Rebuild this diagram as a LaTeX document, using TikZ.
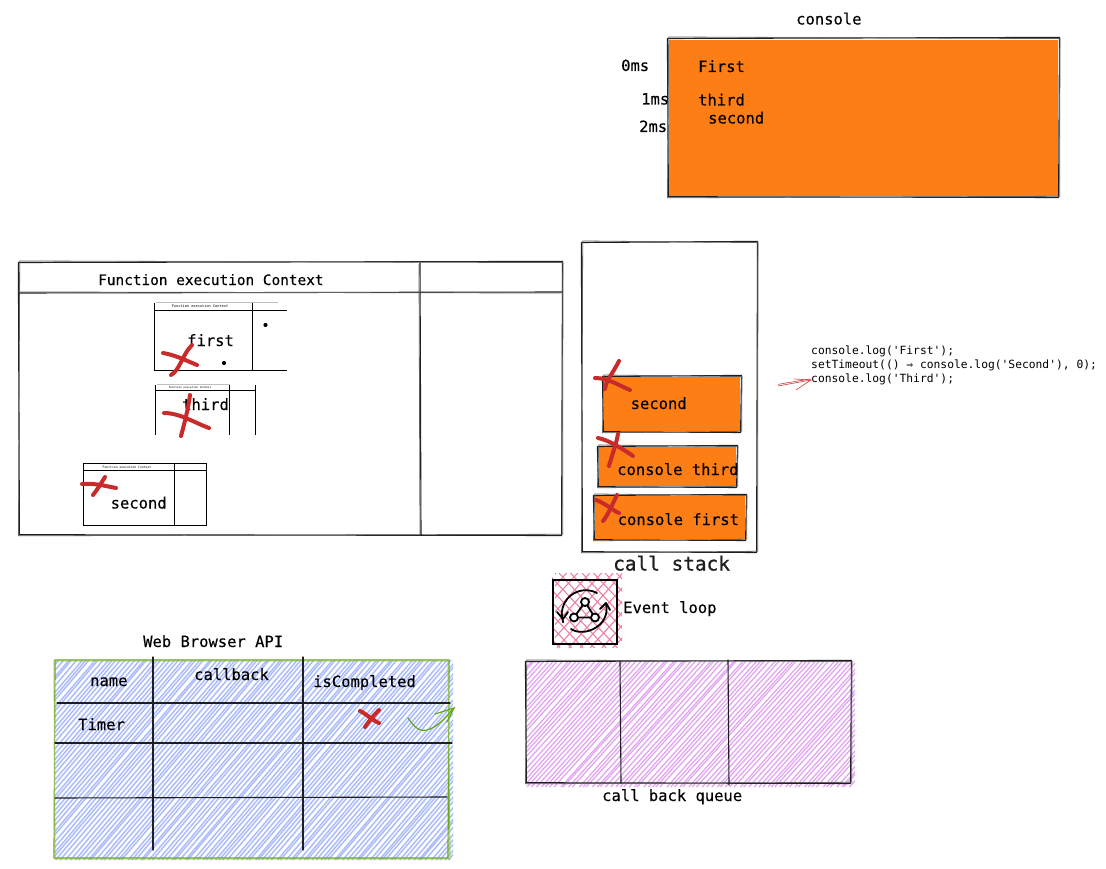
\documentclass[tikz,border=0pt]{standalone}
\usepackage{fontspec}
\setmonofont{DejaVu Sans Mono}
\definecolor{sketchorange}{HTML}{FD7E14}
\definecolor{crossred}{HTML}{C92A2A}
\definecolor{inkline}{HTML}{1E1E1E}
\definecolor{hatchblue}{HTML}{5C7CFA}
\definecolor{hatchpink}{HTML}{E64980}
\definecolor{hatchpurple}{HTML}{CC5DE8}
\definecolor{sketchgreen}{HTML}{66A80F}
\tikzset{
  ink/.style={draw=inkline,line width=1.1pt,line cap=round,line join=round},
  inkfaint/.style={draw=inkline!70,line width=0.8pt,line cap=round},
  thinink/.style={draw=black,line width=0.7pt},
  xmark/.style={draw=crossred,line width=4pt,line cap=round,line join=round},
  label/.style={font=\ttfamily\fontsize{15.5}{17}\selectfont\addfontfeature{FakeBold=0.2},text=black,inner sep=0pt,anchor=base west},
  titlelabel/.style={font=\ttfamily\fontsize{14.4}{16}\selectfont\addfontfeature{FakeBold=0.2},text=black,inner sep=0pt,anchor=base west},
  codetext/.style={font=\ttfamily\fontsize{11.3}{14}\selectfont,text=black,inner sep=0pt,anchor=base west,align=left},
  tiny/.style={font=\ttfamily\fontsize{3.6}{4}\selectfont,text=black,inner sep=0pt,anchor=center},
  stacklabel/.style={font=\ttfamily\fontsize{19.4}{22}\selectfont\addfontfeature{FakeBold=0.8},text=inkline,inner sep=0pt,anchor=base west},
}
% rough rectangle: two slightly displaced strokes
\newcommand{\roughrect}[5][]{%
  \draw[ink,#1] (#2-0.6,#3+0.5) -- (#4+0.5,#3-0.6) -- (#4-0.4,#5+0.5) -- (#2+0.4,#5-0.3) -- cycle;
  \draw[inkfaint,#1] (#2+0.7,#3-1) -- (#4+0.9,#3+0.6) -- (#4+0.7,#5-0.7) -- (#2-0.5,#5+0.8) -- cycle;
}
% hatching: x1 y1 x2 y2 colour spacing lean width
\newcommand{\hatchfill}[8]{%
  \begin{scope}
    \clip (#1,#2) rectangle (#3,#4);
    \pgfmathsetmacro{\hlean}{(#4-#2)*#7}
    \pgfmathsetmacro{\hstart}{#1-\hlean}
    \pgfmathsetmacro{\hnext}{\hstart+#6}
    \foreach \hx in {\hstart,\hnext,...,#3}{
      \pgfmathsetmacro{\hj}{1.4*rand}
      \pgfmathsetmacro{\hk}{1.4*rand}
      \draw[#5,line width=#8] (\hx+\hj,#4) -- (\hx+\hlean+\hk,#2);
    }
  \end{scope}}
\begin{document}
\begin{tikzpicture}[x=1pt,y=-1pt]
\pgfmathsetseed{4242}
\useasboundingbox[fill=white] (0,0) rectangle (1106,869);

% console
\fill[sketchorange] (669,40) rectangle (1058,196);
\roughrect{668}{38}{1059}{197}
\node[label] (consoletitle) at (796,24.5) {console};
\node[label] (t0) at (621,71) {0ms};
\node[label] (t1) at (641,104.5) {1ms};
\node[label] (t2) at (639,132) {2ms};
\node[label] (lfirst) at (698,72) {First};
\node[label] (lthird) at (698,105.5) {third};
\node[label] (lsecond) at (708,123.5) {second};

% function execution context
\roughrect{19}{262}{562}{535}
\draw[ink] (19,293) -- (562,292);
\draw[inkfaint] (18,292) -- (561,293);
\draw[ink] (420,263) -- (421,535);
\draw[inkfaint] (419,264) -- (420,534);
\node[titlelabel] (fectitle) at (98,285) {Function execution Context};

% mini frame: first
\draw[thinink] (154,303) -- (154,370) -- (287,370);
\draw[thinink] (154,310) -- (287,310);
\draw[thinink] (252,303) -- (252,370);
\draw[draw=black!25,line width=0.5pt] (156,302) -- (278,302);
\node[tiny] (minifirst) at (200,306.5) {Function execution Context};
\fill (265.5,325) circle (2.1);
\fill (224,363) circle (2.1);
\node[label] (first) at (187,346) {first};

% mini frame: third
\draw[thinink] (155.5,385) -- (155.5,435);
\draw[thinink] (155.5,390.5) -- (255.5,390.5);
\draw[thinink] (229.5,385) -- (229.5,435);
\draw[thinink] (255.5,385) -- (255.5,435);
\draw[draw=black!25,line width=0.5pt] (157,384.5) -- (230,384.5);
\node[tiny,font=\ttfamily\fontsize{2.7}{3}\selectfont] (minithird) at (190,387.7) {Function execution Context};
\node[label] (third) at (182,410) {third};

% mini frame: second
\draw[thinink] (83.5,463.5) rectangle (206.5,525.5);
\draw[thinink] (83.5,470.5) -- (206.5,470.5);
\draw[thinink] (174.5,463.5) -- (174.5,525.5);
\node[tiny,font=\ttfamily\fontsize{3.1}{3.5}\selectfont] (minisecond) at (127,467.2) {Function execution Context};
\node[label] (second) at (110.5,508.5) {second};

% crosses on the frames
\draw[xmark] (163,353) .. controls (175,355) and (185,360) .. (197,365);
\draw[xmark] (192,345) .. controls (182,355) and (180,370) .. (171,375);
\draw[xmark] (164,413) .. controls (180,413) and (195,423) .. (209,428);
\draw[xmark] (190,395) .. controls (188,410) and (184,425) .. (181,436);
\draw[xmark] (82,484) .. controls (95,483) and (105,486) .. (116,488);
\draw[xmark] (105,477) .. controls (100,485) and (97,490) .. (93,495);

% call stack
\roughrect{582}{242}{757}{552}
\node[stacklabel] (stacklabel) at (613,570.5) {call stack};

\fill[sketchorange] (604,377) rectangle (740,431);
\roughrect{603}{376}{741}{432}
\node[label] (ssecond) at (630.5,409) {second};
\fill[sketchorange] (599,447) rectangle (736,486);
\roughrect{598}{446}{737}{487}
\node[label] (sthird) at (617,475) {console third};
\fill[sketchorange] (595,496) rectangle (745,539);
\roughrect{594}{495}{746}{540}
\node[label] (sfirst) at (617.5,525) {console first};

\draw[xmark] (595,378) .. controls (608,378) and (618,385) .. (630,390);
\draw[xmark] (619,361) .. controls (612,375) and (606,380) .. (605,389);
\draw[xmark] (598,438) .. controls (608,440) and (620,447) .. (633,456);
\draw[xmark] (618,434) .. controls (616,445) and (612,455) .. (609,466);
\draw[xmark] (596,500) .. controls (605,503) and (612,510) .. (619,513);
\draw[xmark] (617,495) .. controls (612,505) and (608,515) .. (603,521);

% code and red arrow
\node[codetext] (codeone) at (811,354) {console.log('First');};
\node[codetext] (codetwo) at (811,368) {setTimeout(() ⇒ console.log('Second'), 0);};
\node[codetext] (codethree) at (811,382) {console.log('Third');};
\coordinate (arrowtail) at (778,386);
\coordinate (arrowtip) at (811,380);
\draw[draw=crossred!90,line width=0.6pt] (arrowtail) -- (arrowtip);
\draw[draw=crossred!90,line width=0.6pt] ([yshift=1.6pt]arrowtail) -- ([yshift=1.2pt]arrowtip);
\draw[draw=crossred!90,line width=0.6pt] (794,379) -- (arrowtip) -- (796,390);

% event loop
\hatchfill{555}{573}{622}{648}{hatchpink!70}{11.5}{0.9}{1.1pt}
\begin{scope}
  \clip (552,573) rectangle (622,648);
  \foreach \hx in {490,501.5,...,640}{
    \draw[hatchpink!70,line width=1.1pt] (\hx,573) -- (\hx+70,648);
  }
\end{scope}
\draw[draw=black,line width=2pt] (552.5,579.5) rectangle (617,644);
\draw[draw=black,line width=1.8pt,line cap=round] (597,593) arc[start angle=-62,end angle=-200,radius=24];
\draw[draw=black,line width=1.8pt,line cap=round,line join=round] (557,612) -- (563,619) -- (568,612);
\draw[draw=black,line width=1.8pt,line cap=round] (571,629) .. controls (585,638) and (611,625) .. (606,604);
\draw[draw=black,line width=1.8pt,line cap=round,line join=round] (600,609) -- (606,603) -- (610,610);
\draw[draw=black,line width=1.8pt,line join=round] (585,602) -- (574,617.5) -- (595,617.5) -- cycle;
\foreach \ix/\iy in {585/602,574/617.5,595/617.5}{
  \draw[draw=black,fill=white,line width=1.8pt] (\ix,\iy) circle (4);
}
\node[label] (eventloop) at (623,613) {Event loop};

% web browser api
\hatchfill{55}{660}{453}{860}{hatchblue!50}{4.4}{0.85}{1.5pt}
\draw[draw=sketchgreen,line width=1.2pt] (55,660) -- (449,660) -- (448,858) -- (54,858) -- cycle;
\draw[draw=sketchgreen!70,line width=0.9pt] (54,661) -- (448,661) -- (450,859) -- (55,859) -- cycle;
\draw[ink] (57,703) -- (450,703);
\draw[ink] (55,743) -- (452,743);
\draw[ink] (55,798) -- (447,797);
\draw[ink] (153,657) -- (153,850);
\draw[ink] (303,657) -- (303,850);
\node[label] (webtitle) at (143,647) {Web Browser API};
\node[label] (colname) at (90,686) {name};
\node[label] (colcallback) at (194,680) {callback};
\node[label] (coldone) at (313,687) {isCompleted};
\node[label] (timer) at (78,730) {Timer};
\draw[xmark] (360,711) .. controls (365,713) and (372,720) .. (379,723);
\draw[xmark] (379,710) .. controls (374,715) and (369,721) .. (365,727);
\coordinate (greentail) at (408,718);
\coordinate (greentip) at (454,708);
\draw[draw=sketchgreen,line width=1.2pt,line cap=round] (greentail) .. controls (415,728) and (420,733) .. (430,729) .. controls (440,725) and (447,716) .. (greentip);
\draw[draw=sketchgreen,line width=1.2pt,line cap=round] (435,714) -- (greentip) -- (447,722);

% call back queue
\hatchfill{526}{661}{855}{787}{hatchpurple!55}{4.6}{0.9}{1.3pt}
\roughrect{526}{661}{851}{783}
\draw[ink] (620,661) -- (621,783);
\draw[ink] (728,660) -- (729,785);
\node[label] (queuelabel) at (602,801) {call back queue};
\end{tikzpicture}
\end{document}
